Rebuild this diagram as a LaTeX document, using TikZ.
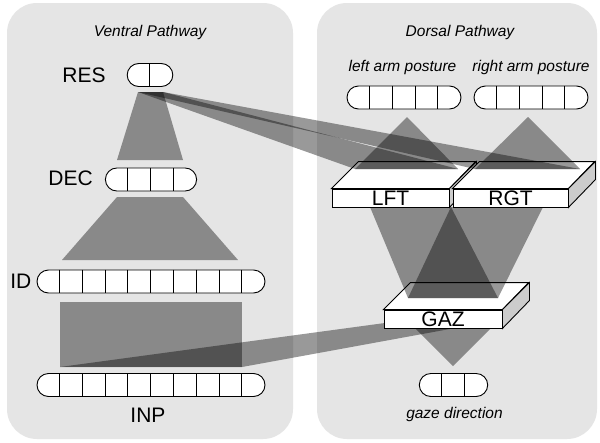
\documentclass[tikz,border=0pt]{standalone}
\usepackage{fontspec}
\setmainfont{Liberation Sans}
\usetikzlibrary{positioning}
\pgfdeclarelayer{panel}
\pgfdeclarelayer{face}
\pgfdeclarelayer{beam}
\pgfsetlayers{panel,face,beam,main}
\tikzset{
    pathway/.style={fill=black!10, rounded corners=30pt},
    pill/.style={draw, fill=white, line width=0.9pt, rounded corners=11.5pt, minimum height=23pt, inner sep=0pt},
    slab/.style={draw, fill=white, line width=0.9pt, minimum height=18pt, inner sep=0pt, font=\fontsize{21}{24}\selectfont},
    sideface/.style={draw, fill=black!20, line width=0.9pt},
    topface/.style={draw, fill=white, line width=0.9pt},
    layername/.style={inner sep=0pt, font=\fontsize{21}{24}\selectfont},
    heading/.style={inner sep=0pt, anchor=base, font=\fontsize{15.5}{18}\selectfont\itshape},
    proj/.style={fill=black, fill opacity=0.4},
}

\begin{document}
\begin{tikzpicture}[x=1pt, y=-1pt]
    \useasboundingbox (0,0) rectangle (600,442);
    \begin{pgfonlayer}{panel}
        \fill[white] (0,0) rectangle (600,442);
        \fill[pathway] (7,3) rectangle (293,439);
        \fill[pathway] (317,3) rectangle (597,439);
    \end{pgfonlayer}

    % captions
    \node (ventral) [heading] at (150,36) {Ventral Pathway};
    \node (dorsal) [heading] at (460,36) {Dorsal Pathway};
    \node (lcap) [heading] at (402.5,71) {left arm posture};
    \node (rcap) [heading] at (531,71) {right arm posture};
    \node (gcap) [heading] at (454.5,418) {gaze direction};

    % unit rows
    \node (res) [pill, minimum width=45.6pt] at (150,75) {};
    \node (dec) [pill, minimum width=91.2pt] at (151,179.5) {};
    \node (id) [pill, minimum width=228pt] at (151,281.5) {};
    \node (inp) [pill, minimum width=228pt] at (151,385) {};
    \node (larm) [pill, minimum width=114pt] at (404,97.5) {};
    \node (rarm) [pill, minimum width=114pt] at (531,97.5) {};
    \node (gaze) [pill, minimum width=68.4pt] at (453.5,385) {};

    \foreach \i in {1}
        \draw[line width=0.9pt] ([xshift=\i*22.8pt]res.north west) -- ([xshift=\i*22.8pt]res.south west);
    \foreach \i in {1,...,3}
        \draw[line width=0.9pt] ([xshift=\i*22.8pt]dec.north west) -- ([xshift=\i*22.8pt]dec.south west);
    \foreach \i in {1,...,9} {
        \draw[line width=0.9pt] ([xshift=\i*22.8pt]id.north west) -- ([xshift=\i*22.8pt]id.south west);
        \draw[line width=0.9pt] ([xshift=\i*22.8pt]inp.north west) -- ([xshift=\i*22.8pt]inp.south west);
    }
    \foreach \i in {1,...,4} {
        \draw[line width=0.9pt] ([xshift=\i*22.8pt]larm.north west) -- ([xshift=\i*22.8pt]larm.south west);
        \draw[line width=0.9pt] ([xshift=\i*22.8pt]rarm.north west) -- ([xshift=\i*22.8pt]rarm.south west);
    }
    \foreach \i in {1,2}
        \draw[line width=0.9pt] ([xshift=\i*22.8pt]gaze.north west) -- ([xshift=\i*22.8pt]gaze.south west);

    \node (reslbl) [layername, left=21pt of res] {RES};
    \node (declbl) [layername, left=12pt of dec, yshift=1.5pt] {DEC};
    \node (idlbl) [layername, left=5pt of id] {ID};
    \node (inplbl) [layername, below=11pt of inp, xshift=-3pt] {INP};

    % slabs
    \node (lft) [slab, minimum width=117pt] at (390.5,198) {LFT};
    \node (rgt) [slab, minimum width=115pt] at (510.5,198) {RGT};
    \node (gaz) [slab, minimum width=118pt] at (443,319) {GAZ};

    \begin{pgfonlayer}{face}
        \draw[topface] (lft.north west) -- ++(27,-27) -- ++(117,0) -- (lft.north east) -- cycle;
        \draw[sideface] (lft.north east) -- ++(27,-27) -- ++(0,18) -- (lft.south east) -- cycle;
        \draw[topface] (rgt.north west) -- ++(27,-27) -- ++(115,0) -- (rgt.north east) -- cycle;
        \draw[sideface] (rgt.north east) -- ++(27,-27) -- ++(0,18) -- (rgt.south east) -- cycle;
        \draw[topface] (gaz.north west) -- ++(27,-27) -- ++(118,0) -- (gaz.north east) -- cycle;
        \draw[sideface] (gaz.north east) -- ++(27,-27) -- ++(0,18) -- (gaz.south east) -- cycle;
    \end{pgfonlayer}

    % projections
    \begin{pgfonlayer}{beam}
        \fill[proj] (138,92) -- (163,92) -- (183,160) -- (117,160) -- cycle;
        \fill[proj] (117,197) -- (183,197) -- (238,260) -- (62,260) -- cycle;
        \fill[proj] (60,302) rectangle (242,367);
        \fill[proj] (60,367) -- (242,367) -- (499,320) -- (407,320) -- cycle;
        \fill[proj] (407,320) -- (499,320) -- (453,366) -- cycle;
        \fill[proj] (370,207) -- (451,207) -- (498,298) -- (408,298) -- cycle;
        \fill[proj] (451,207) -- (543,207) -- (498,298) -- (408,298) -- cycle;
        \fill[proj] (407,117) -- (458,169) -- (355,169) -- cycle;
        \fill[proj] (528,117) -- (580,169) -- (475,169) -- cycle;
        \fill[proj] (138,92) -- (163,92) -- (458,169) -- (355,169) -- cycle;
        \fill[proj] (138,92) -- (163,92) -- (580,169) -- (475,169) -- cycle;
    \end{pgfonlayer}
\end{tikzpicture}
\end{document}
